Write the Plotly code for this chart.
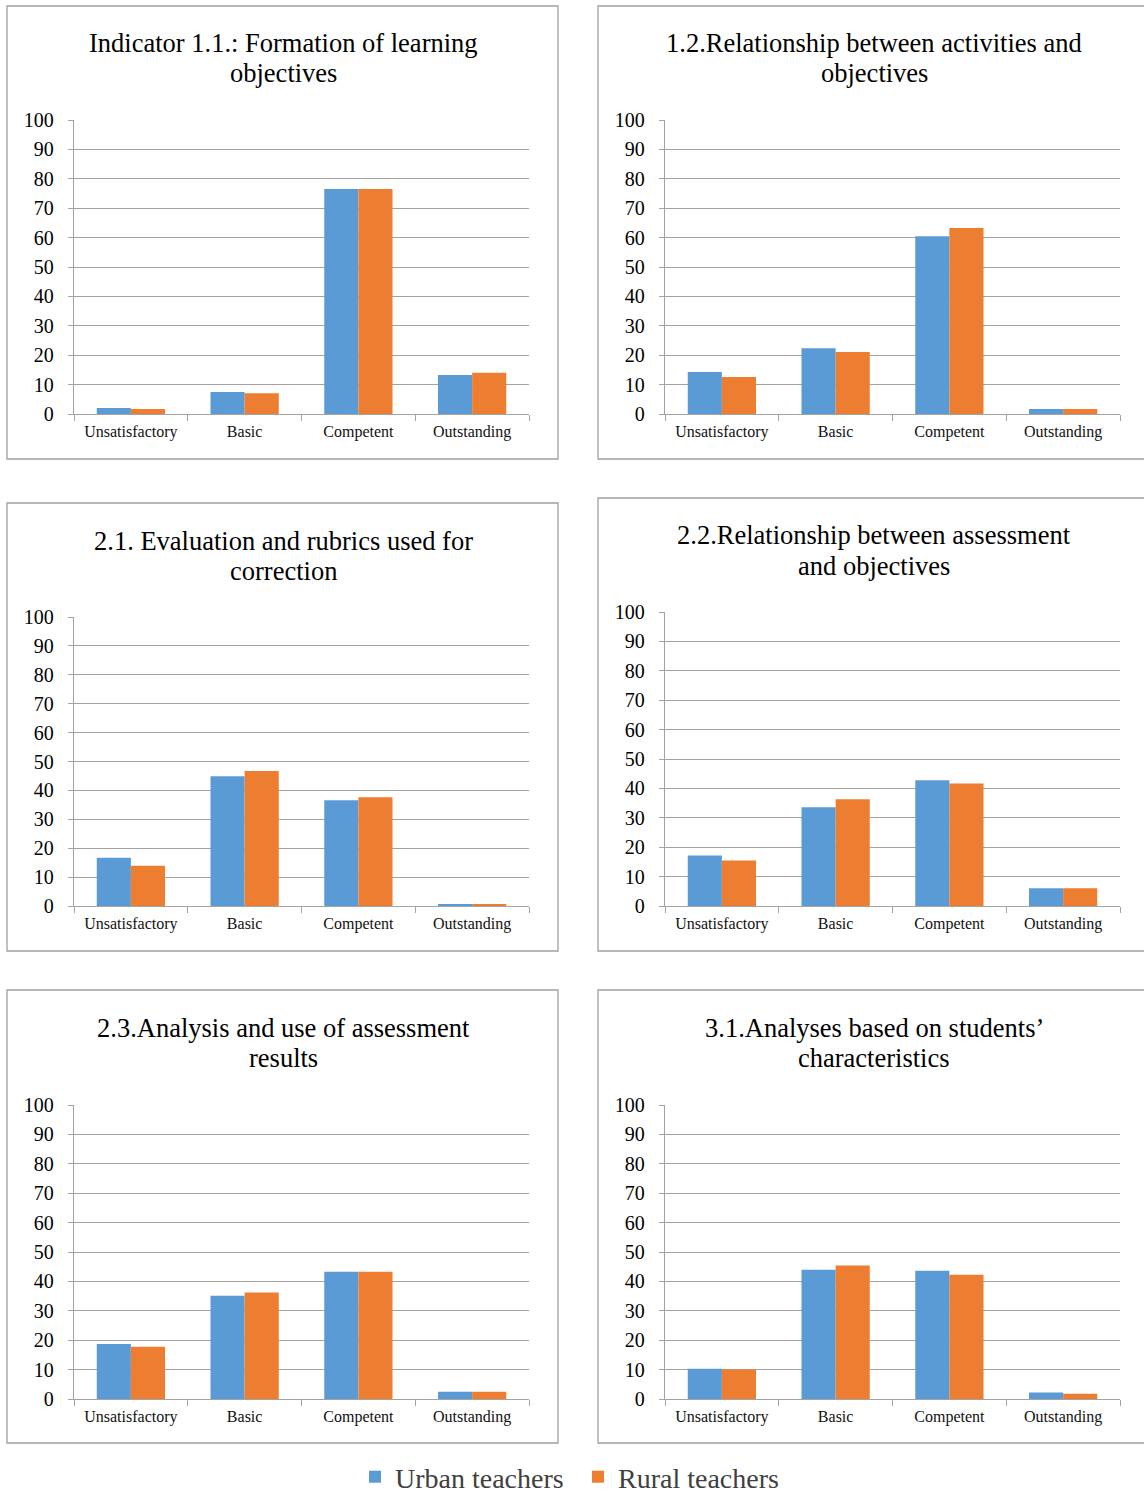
import plotly.graph_objects as go

W, H = 1144, 1495

categories = ["Unsatisfactory", "Basic", "Competent", "Outstanding"]
series_names = ["Urban teachers", "Rural teachers"]
y_ticks = [0, 10, 20, 30, 40, 50, 60, 70, 80, 90, 100]

titles = [
    ("Indicator 1.1.: Formation of learning", "objectives"),
    ("1.2.Relationship between activities and", "objectives"),
    ("2.1. Evaluation and rubrics used for", "correction"),
    ("2.2.Relationship between assessment", "and objectives"),
    ("2.3.Analysis and use of assessment", "results"),
    ("3.1.Analyses based on students’", "characteristics"),
]

urban_11 = [2.0, 7.5, 76.5, 13.3]
rural_11 = [1.7, 7.1, 76.5, 14.0]
urban_12 = [14.3, 22.4, 60.5, 1.7]
rural_12 = [12.6, 21.1, 63.3, 1.7]
urban_21 = [16.7, 44.9, 36.6, 0.7]
rural_21 = [13.9, 46.7, 37.6, 0.7]
urban_22 = [17.2, 33.6, 42.8, 6.0]
rural_22 = [15.5, 36.3, 41.7, 6.0]
urban_23 = [18.7, 35.1, 43.3, 2.5]
rural_23 = [17.8, 36.2, 43.3, 2.5]
urban_31 = [10.3, 44.0, 43.6, 2.2]
rural_31 = [10.0, 45.4, 42.3, 1.8]

urban = [urban_11, urban_12, urban_21, urban_22, urban_23, urban_31]
rural = [rural_11, rural_12, rural_21, rural_22, rural_23, rural_31]

BLUE = "#5B9BD5"
ORANGE = "#ED7D31"
GRID = "#a3a3a3"
FONT = "Liberation Serif"

# layout geometry in pixels: plot (x0, x1, y_top, y_bottom), box (x0, x1, y0, y1), title (x, line1 y, line2 y)
panels = [
    ((74, 529, 120, 414), (7, 558, 6, 459), (283, 43, 73)),
    ((665, 1120, 120, 414), (598, 1160, 6, 459), (874, 43, 73)),
    ((74, 529, 617, 906), (7, 558, 503, 951), (283, 541, 571)),
    ((665, 1120, 612, 906), (598, 1160, 498, 951), (874, 535, 566)),
    ((74, 529, 1105, 1399), (7, 558, 990, 1443), (283, 1028, 1058)),
    ((665, 1120, 1105, 1399), (598, 1160, 990, 1443), (874, 1028, 1058)),
]

def px(x):
    return x / W

def py(y):
    return 1 - y / H

fig = go.Figure()
shapes = []
annotations = []
layout_axes = {}

for i, ((x0, x1, yt, yb), (bx0, bx1, by0, by1), (tx, ty1, ty2)) in enumerate(panels):
    n = "" if i == 0 else str(i + 1)
    xa, ya = "x" + n, "y" + n
    fig.add_trace(go.Bar(
        x=categories, y=urban[i], name=series_names[0], xaxis=xa, yaxis=ya,
        marker=dict(color=BLUE, line=dict(width=0)), showlegend=(i == 0),
        legendgroup="u",
    ))
    fig.add_trace(go.Bar(
        x=categories, y=rural[i], name=series_names[1], xaxis=xa, yaxis=ya,
        marker=dict(color=ORANGE, line=dict(width=0)), showlegend=(i == 0),
        legendgroup="r",
    ))
    layout_axes["xaxis" + n] = dict(
        domain=[px(x0), px(x1)], anchor=ya, type="category",
        showline=True, linecolor=GRID, linewidth=1.3,
        ticks="outside", tickson="boundaries", ticklen=6, tickcolor=GRID,
        tickwidth=1.3, showgrid=False,
        tickfont=dict(family=FONT, size=16, color="#111"),
        ticklabelstandoff=3,
    )
    layout_axes["yaxis" + n] = dict(
        domain=[py(yb), py(yt)], anchor=xa, range=[0, 100],
        tickvals=y_ticks, showline=True, linecolor=GRID, linewidth=1.3,
        ticks="outside", ticklen=5, tickcolor=GRID, tickwidth=1.3,
        showgrid=True, gridcolor=GRID, gridwidth=1.3, zeroline=False,
        tickfont=dict(family=FONT, size=20, color="#000"),
        ticklabelstandoff=10,
    )
    shapes.append(dict(
        type="rect", xref="paper", yref="paper",
        x0=px(bx0), x1=px(bx1), y0=py(by1), y1=py(by0),
        line=dict(color="#a0a0a0", width=1.3), fillcolor="rgba(0,0,0,0)",
        layer="below",
    ))
    for line_text, ly in zip(titles[i], (ty1, ty2)):
        annotations.append(dict(
            text=line_text, xref="paper", yref="paper", x=px(tx), y=py(ly),
            xanchor="center", yanchor="middle", showarrow=False,
            font=dict(family=FONT, size=26.5, color="#000"),
        ))

fig.update_layout(
    width=W, height=H,
    margin=dict(l=0, r=0, t=0, b=0, autoexpand=False),
    paper_bgcolor="white", plot_bgcolor="white",
    barmode="group", bargap=0.4, bargroupgap=0,
    shapes=shapes, annotations=annotations,
    legend=dict(
        orientation="h", x=px(578), xanchor="center", y=py(1477), yanchor="middle",
        font=dict(family=FONT, size=28, color="#404040"),
        bgcolor="rgba(0,0,0,0)", itemwidth=30,
        entrywidth=178, entrywidthmode="pixels",
    ),
    **layout_axes,
)

fig.write_html("out.html")
